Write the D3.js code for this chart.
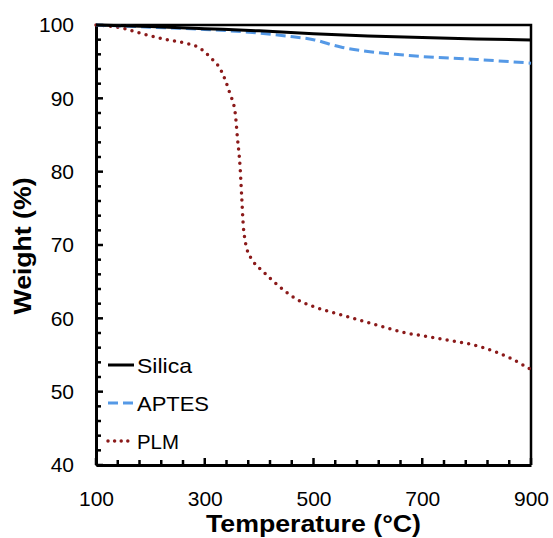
<!DOCTYPE html>
<html>
<head>
<meta charset="utf-8">
<script src="https://cdn.jsdelivr.net/npm/d3@7"></script>
<style>
  body { margin: 0; background: #fff; }
  text { font-family: "Liberation Sans", Arial, sans-serif; fill: #000; }
</style>
</head>
<body>
<svg id="chart" width="553" height="538"></svg>
<script>
// data (temperature in °C, weight in %)
const silicaT = [100, 200, 300, 400, 500, 600, 700, 800, 900];
const silicaW = [100, 99.8, 99.5, 99.2, 98.8, 98.5, 98.3, 98.1, 97.95];

const aptesT = [100, 200, 300, 400, 450, 500, 550, 600, 650, 700, 800, 900];
const aptesW = [100, 99.7, 99.4, 98.9, 98.5, 98.0, 97.0, 96.4, 96.0, 95.7, 95.3, 94.8];

const plmT = [100, 153, 181, 230, 265, 290, 310, 330, 346, 356, 360, 365, 368, 371, 374, 377, 388, 407, 438, 469, 500, 540, 573, 620, 665, 727, 812, 861, 900];
const plmW = [100, 99.5, 98.9, 98.0, 97.5, 96.9, 95.6, 93.8, 90.7, 88.0, 84.7, 80.6, 76.5, 72.5, 70.7, 69.6, 67.9, 66.4, 64.3, 62.6, 61.6, 60.7, 60.0, 59.0, 58.1, 57.3, 56.0, 54.6, 53.0];

const xTicks = [100, 300, 500, 700, 900];
const yTicks = [40, 50, 60, 70, 80, 90, 100];
const seriesNames = ["Silica", "APTES", "PLM"];

const margin = {top: 25, right: 22, bottom: 73, left: 96};
const W = 553 - margin.left - margin.right;
const H = 538 - margin.top - margin.bottom;

const svg = d3.select("#chart");

const x = d3.scaleLinear().domain([100, 900]).range([margin.left, margin.left + W]);
const y = d3.scaleLinear().domain([40, 100]).range([margin.top + H, margin.top]);

// minor ticks every 40 °C and every 2 %
const xMinor = d3.range(100, 901, 40);
const yMinor = d3.range(40, 101, 2);

// tick marks pointing into the plot
svg.append("g").selectAll("line")
  .data(xMinor)
  .join("line")
  .attr("x1", d => x(d)).attr("x2", d => x(d))
  .attr("y1", y(40)).attr("y2", d => y(40) - (xTicks.includes(d) ? 7 : 5))
  .attr("stroke", "#000").attr("stroke-width", 2.5);

svg.append("g").selectAll("line")
  .data(yMinor)
  .join("line")
  .attr("y1", d => y(d)).attr("y2", d => y(d))
  .attr("x1", x(100)).attr("x2", d => x(100) + (yTicks.includes(d) ? 7 : 5))
  .attr("stroke", "#000").attr("stroke-width", 2.5);

// axes (labels + domain)
const xAxis = svg.append("g")
  .attr("transform", "translate(0," + y(40) + ")")
  .call(d3.axisBottom(x).tickValues(xTicks).tickSize(0).tickPadding(26));
xAxis.select(".domain").attr("stroke-width", 3);
xAxis.selectAll("text").attr("font-size", "21px").attr("fill", "#000");

const yAxis = svg.append("g")
  .attr("transform", "translate(" + x(100) + ",0)")
  .call(d3.axisLeft(y).tickValues(yTicks).tickSize(0).tickPadding(22));
yAxis.select(".domain").attr("stroke-width", 3);
yAxis.selectAll("text").attr("font-size", "21px").attr("fill", "#000");

// top and right frame
svg.append("path")
  .attr("d", "M" + x(100) + "," + y(100) + "H" + x(900) + "V" + y(40))
  .attr("fill", "none").attr("stroke", "#000").attr("stroke-width", 2.5);

const lineGen = d3.line()
  .x(d => x(d[0]))
  .y(d => y(d[1]))
  .curve(d3.curveMonotoneX);

const series = [
  {name: seriesNames[0], data: d3.zip(silicaT, silicaW), color: "#000000", dash: null},
  {name: seriesNames[1], data: d3.zip(aptesT, aptesW), color: "#5599E6", dash: "10,5"},
  {name: seriesNames[2], data: d3.zip(plmT, plmW), color: "#8B1A1A", dash: "0,7.3"}
];

series.slice().reverse().forEach(s => {
  svg.append("path")
    .datum(s.data)
    .attr("d", lineGen)
    .attr("fill", "none")
    .attr("stroke", s.color)
    .attr("stroke-width", s.name == "PLM" ? 3.5 : 3)
    .attr("stroke-linecap", s.name == "PLM" ? "round" : "butt")
    .attr("stroke-dasharray", s.dash);
});

// legend
const legendLen = [55, 72, 42];
const legend = svg.append("g").attr("transform", "translate(108,365)");
series.forEach((s, i) => {
  const row = legend.append("g").attr("transform", "translate(0," + (i * 38) + ")");
  row.append("line")
    .attr("x1", 0).attr("x2", 26).attr("y1", 0).attr("y2", 0)
    .attr("stroke", s.color)
    .attr("stroke-width", s.name == "PLM" ? 3.5 : 3)
    .attr("stroke-linecap", s.name == "PLM" ? "round" : "butt")
    .attr("stroke-dasharray", s.name == "APTES" ? "10,5" : s.name == "PLM" ? "0,6.6" : null);
  row.append("text")
    .attr("x", 29).attr("y", 0).attr("dy", "0.36em")
    .attr("font-size", "21px")
    .attr("textLength", legendLen[i])
    .attr("lengthAdjust", "spacingAndGlyphs")
    .text(s.name);
});

// axis titles
svg.append("text")
  .attr("x", margin.left + W / 2)
  .attr("y", 532)
  .attr("text-anchor", "middle")
  .attr("font-size", "24px")
  .attr("font-weight", "bold")
  .attr("textLength", 215)
  .attr("lengthAdjust", "spacingAndGlyphs")
  .text("Temperature (°C)");

svg.append("text")
  .attr("transform", "translate(31,246) rotate(-90)")
  .attr("text-anchor", "middle")
  .attr("font-size", "24px")
  .attr("font-weight", "bold")
  .attr("textLength", 137)
  .attr("lengthAdjust", "spacingAndGlyphs")
  .text("Weight (%)");
</script>
</body>
</html>
